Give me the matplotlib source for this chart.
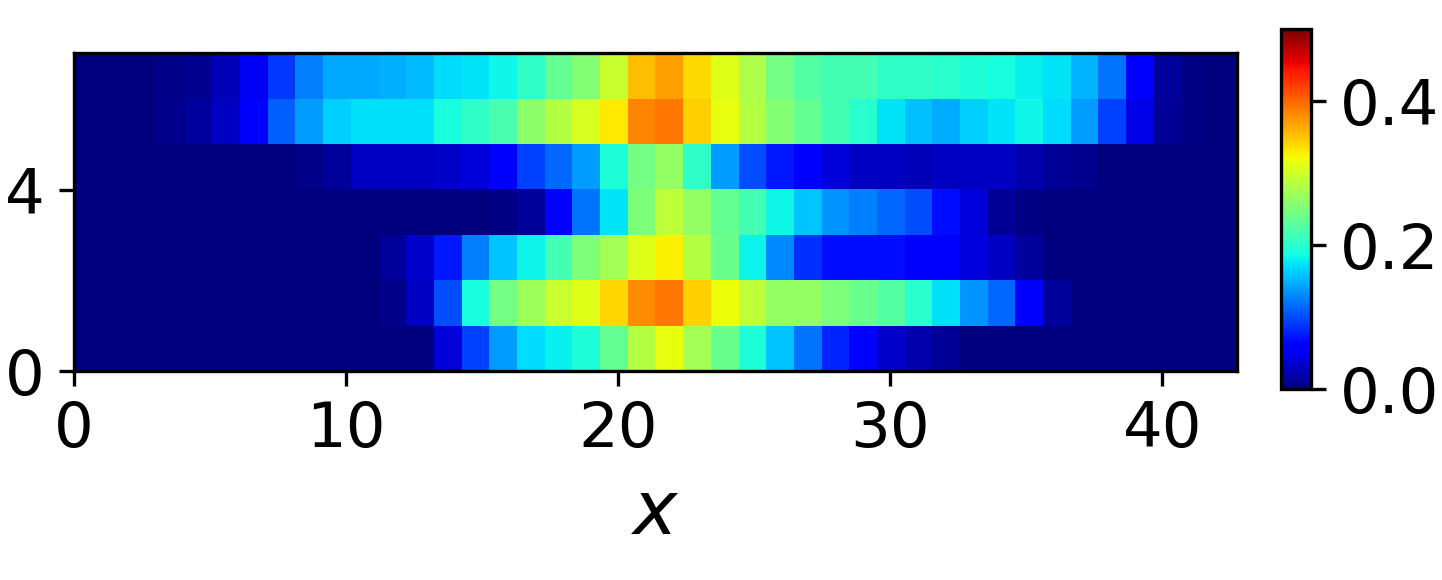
"""Heatmap of a field over x, with a jet colorbar."""

import matplotlib

matplotlib.use("Agg")
import matplotlib.pyplot as plt
import numpy as np

row_0 = [0, 0, 0, 0, 0, 0, 0, 0, 0, 0, 0, 0, 0, .04, .095, .14, .17, .18, .195, .235, .285, .315, .275, .24, .195, .16, .12, .082,
         .055, .033, .02, .01, 0, 0, 0, 0, 0, 0, 0, 0, 0, 0]
row_1 = [0, 0, 0, 0, 0, 0, 0, 0, 0, 0, 0, .004, .03, .1, .19, .245, .27, .295, .31, .34, .379, .392, .345, .32, .29, .265, .265, .25,
         .24, .225, .2, .172, .135, .115, .055, .012, 0, 0, 0, 0, 0, 0]
row_2 = [0, 0, 0, 0, 0, 0, 0, 0, 0, 0, 0, .012, .035, .075, .125, .16, .183, .215, .25, .275, .31, .328, .285, .24, .183, .13, .086, .07,
         .07, .07, .06, .06, .042, .03, .012, 0, 0, 0, 0, 0, 0, 0]
row_3 = [0, 0, 0, 0, 0, 0, 0, 0, 0, 0, 0, 0, 0, .001, 0, .002, .012, .055, .12, .175, .25, .29, .265, .235, .215, .185, .16, .135,
         .125, .115, .1, .07, .04, .01, .002, 0, 0, 0, 0, 0, 0, 0]
row_4 = [0, 0, 0, 0, 0, 0, 0, 0, .005, .012, .03, .03, .03, .033, .04, .055, .095, .115, .14, .195, .245, .265, .205, .14, .1, .075, .055, .04,
         .03, .03, .025, .03, .03, .03, .02, .01, .006, 0, 0, 0, 0, 0]
row_5 = [0, 0, 0, .006, .014, .03, .055, .11, .14, .165, .172, .172, .172, .19, .205, .22, .26, .285, .305, .332, .383, .392, .345, .315, .285, .255, .235, .215,
         .2, .175, .157, .148, .165, .175, .185, .17, .14, .095, .045, .01, .002, 0]
row_6 = [0, 0, 0, .004, .008, .025, .052, .09, .125, .145, .145, .15, .155, .17, .175, .185, .205, .235, .255, .295, .354, .37, .338, .31, .28, .245, .225, .215,
         .215, .205, .205, .2, .195, .19, .18, .175, .152, .12, .055, .012, .002, 0]

x_ticks = [0, 10, 20, 30, 40]
y_ticks = [0, 4]
cbar_ticks = [0.0, 0.2, 0.4]


def main() -> None:
    W, H = 1442, 580
    field = np.array([row_0, row_1, row_2, row_3, row_4, row_5, row_6])

    fig = plt.figure(figsize=(W / 300, H / 300), dpi=300)
    ax = fig.add_axes([74.2 / W, 1 - 371.3 / H, (1237 - 74.2) / W, (371.3 - 53.3) / H])
    im = ax.imshow(
        field,
        origin="lower",
        cmap="jet",
        vmin=0,
        vmax=0.5,
        aspect="auto",
        interpolation="nearest",
        extent=[0, 42.75, 0, 7.02],
    )
    ax.set_xticks(x_ticks)
    ax.set_yticks(y_ticks)
    ax.tick_params(labelsize=15)
    ax.set_xlabel("$x$", fontsize=18)

    cax = fig.add_axes([1281.3 / W, 1 - 389.3 / H, (1311 - 1281.3) / W, (389.3 - 29.3) / H])
    cbar = fig.colorbar(im, cax=cax)
    cbar.set_ticks(cbar_ticks)
    cbar.ax.tick_params(labelsize=15)

    fig.savefig("out.png", dpi=300)
    plt.close(fig)


if __name__ == "__main__":
    main()
